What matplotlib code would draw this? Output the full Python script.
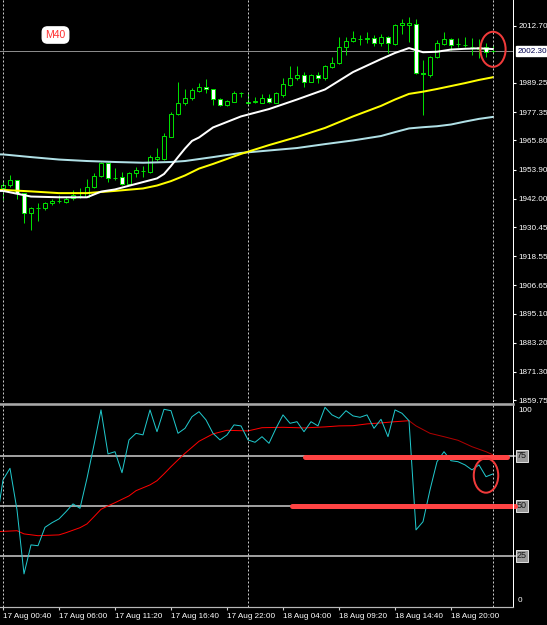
import matplotlib
matplotlib.use('Agg')
import matplotlib.pyplot as plt
import matplotlib.transforms as mtransforms
from matplotlib.patches import Ellipse
from matplotlib.lines import Line2D

plt.rcParams['font.family'] = ['Liberation Sans', 'DejaVu Sans']
FS = 5.9

# ---------------- data (M40 candles, 17-18 Aug) ----------------
OPEN = [1946.5, 1947.6, 1949.6, 1944.2, 1936.1, 1938.1, 1938.1, 1940.1, 1941.0, 1940.8,
        1942.4, 1943.1, 1942.8, 1946.7, 1951.3, 1956.7, 1950.4, 1950.8, 1948.0, 1952.4,
        1953.4, 1953.0, 1958.1, 1958.1, 1967.3, 1976.5, 1981.0, 1983.0, 1986.1, 1987.5,
        1986.7, 1982.6, 1980.1, 1981.6, 1985.0, 1981.0, 1981.6, 1981.2, 1983.0, 1981.2,
        1984.4, 1988.4, 1991.2, 1992.5, 1989.8, 1992.5, 1991.2, 1995.9, 1997.3, 2004.1,
        2006.4, 2007.2, 2007.4, 2007.5, 2005.5, 2008.1, 2005.2, 2012.9, 2012.9, 2013.3,
        1993.5, 1992.5, 1999.7, 2005.2, 2007.1, 2005.0, 2004.7, 2004.0, 2003.0, 2004.1,
        2002.2]
HIGH = [1949.6, 1951.7, 1949.7, 1944.3, 1938.8, 1940.1, 1940.8, 1941.8, 1943.5, 1942.8,
        1945.6, 1946.3, 1949.9, 1952.4, 1957.1, 1957.1, 1954.4, 1952.8, 1953.0, 1954.8,
        1955.4, 1959.9, 1962.6, 1968.7, 1977.5, 1989.8, 1986.7, 1987.1, 1989.1, 1990.8,
        1986.8, 1983.0, 1982.3, 1986.1, 1985.7, 1985.7, 1983.7, 1984.6, 1984.6, 1985.7,
        1991.2, 1996.2, 1996.2, 1993.9, 1992.9, 1993.9, 1996.6, 1999.7, 2007.9, 2007.9,
        2010.5, 2008.8, 2009.9, 2008.8, 2009.1, 2008.4, 2013.3, 2015.2, 2016.1, 2015.2,
        1998.6, 2000.3, 2006.8, 2010.2, 2007.7, 2007.5, 2008.1, 2007.5, 2007.1, 2005.5,
        2004.8]
LOW = [1941.5, 1946.9, 1941.8, 1932.0, 1929.2, 1933.0, 1937.4, 1939.4, 1940.1, 1940.4,
       1941.5, 1942.4, 1942.6, 1946.3, 1951.0, 1949.0, 1949.6, 1947.6, 1947.6, 1951.0,
       1951.0, 1952.4, 1957.4, 1957.8, 1967.2, 1976.2, 1980.3, 1982.3, 1985.7, 1985.2,
       1980.3, 1979.9, 1979.9, 1981.5, 1983.7, 1980.7, 1981.2, 1981.1, 1981.0, 1981.0,
       1983.7, 1988.0, 1990.5, 1987.5, 1989.7, 1989.1, 1990.5, 1995.2, 1997.2, 2000.7,
       2005.9, 2004.8, 2005.5, 2004.5, 2004.5, 2001.4, 2004.8, 2009.2, 2006.0, 1992.9,
       1976.2, 1991.6, 1999.3, 2004.8, 2002.7, 2004.1, 2004.1, 2000.7, 1999.3, 2000.0,
       2001.4]
CLOSE = [1947.6, 1949.6, 1944.2, 1936.1, 1938.1, 1938.2, 1940.1, 1941.1, 1941.2, 1941.8,
         1943.5, 1943.2, 1946.9, 1951.3, 1956.5, 1950.4, 1950.5, 1947.9, 1952.6, 1953.7,
         1953.5, 1958.9, 1958.9, 1967.6, 1976.5, 1981.0, 1983.0, 1986.4, 1987.7, 1986.7,
         1982.6, 1980.3, 1982.0, 1985.0, 1985.1, 1981.6, 1981.7, 1983.0, 1981.6, 1985.0,
         1988.8, 1991.2, 1992.5, 1989.8, 1992.5, 1991.4, 1996.2, 1997.3, 2004.1, 2006.4,
         2007.5, 2007.3, 2007.5, 2005.5, 2008.1, 2005.5, 2012.9, 2013.6, 2013.6, 1993.5,
         1992.9, 1999.7, 2005.5, 2007.1, 2004.8, 2005.1, 2004.8, 2004.1, 2004.1, 2002.0,
         2002.3]
CURRENT_PRICE = 2002.30

# moving averages (read at selected bars)
MA_FAST_IDX = [-1, 0, 4, 8, 12, 14, 16, 20, 22, 23, 24, 25, 26, 27, 28, 30, 34, 38, 42, 46,
               50, 54, 56, 58, 60, 62, 64, 66, 68, 70]
MA_FAST = [1945.2, 1945.2, 1942.9, 1942.6, 1942.6, 1944.9, 1945.8, 1948.8, 1950.3, 1952.1,
           1955.4, 1959.0, 1962.5, 1965.6, 1967.0, 1971.1, 1975.6, 1978.6, 1982.5, 1986.6,
           1993.7, 1999.0, 2001.5, 2003.5, 2001.8, 2002.0, 2002.9, 2003.2, 2003.4, 2003.1]
MA_MID_IDX = [-1, 0, 4, 8, 12, 16, 20, 22, 24, 26, 28, 30, 34, 38, 42, 46, 50, 54, 56, 58,
              60, 62, 64, 66, 68, 70]
MA_MID = [1945.6, 1945.6, 1945.0, 1944.3, 1944.3, 1945.2, 1946.2, 1947.4, 1949.2, 1951.5,
          1954.3, 1956.2, 1960.3, 1963.9, 1967.2, 1970.9, 1975.6, 1979.9, 1982.5, 1984.8,
          1985.7, 1986.8, 1988.0, 1989.2, 1990.5, 1991.6]
MA_SLOW_IDX = [-1, 0, 4, 8, 12, 16, 20, 24, 26, 28, 30, 34, 38, 42, 46, 50, 54, 56, 58,
               60, 62, 64, 66, 68, 70]
MA_SLOW = [1960.1, 1960.1, 1959.0, 1958.0, 1957.4, 1957.0, 1956.7, 1957.0, 1957.4, 1958.2,
           1959.0, 1960.7, 1961.7, 1962.7, 1964.3, 1965.8, 1967.6, 1969.2, 1970.7,
           1971.2, 1971.6, 1972.3, 1973.5, 1974.6, 1975.4]

# oscillator (0-100)
OSC_MAIN_IDX = [-1] + list(range(71))
OSC_MAIN = [40.0,
            62.9, 68.7, 47.9, 15.9, 30.4, 30.0, 39.2, 41.5, 43.4, 47.0,
            50.9, 48.7, 63.7, 80.4, 97.9, 75.9, 77.0, 66.5, 82.9, 86.2,
            85.4, 97.9, 87.0, 98.2, 97.5, 86.2, 88.7, 94.5, 97.0, 92.9,
            86.2, 82.9, 85.4, 90.4, 89.9, 82.9, 81.7, 84.5, 81.2, 88.7,
            95.4, 91.2, 92.0, 87.0, 92.0, 89.9, 99.2, 95.4, 93.7, 97.5,
            94.9, 94.2, 95.4, 88.7, 93.2, 84.5, 97.9, 96.2, 92.5, 37.9,
            42.0, 57.9, 72.0, 77.0, 72.5, 72.0, 70.4, 67.9, 70.4, 64.5, 65.9]
OSC_SIG_IDX = [-1, 2, 3, 5, 8, 9, 11, 12, 13, 14, 15, 16, 18, 19, 21, 22, 23, 24, 25, 26,
               28, 30, 32, 35, 37, 40, 43, 46, 48, 50, 52, 54, 56, 58, 59, 61, 63, 65, 67,
               69, 70]
OSC_SIG = [37.0, 37.5, 35.9, 35.0, 35.4, 36.5, 39.0, 40.9, 44.5, 48.2, 49.9, 51.5, 54.9,
           57.5, 60.4, 62.5, 65.9, 69.5, 72.9, 76.2, 82.2, 85.9, 87.7, 87.4, 89.0, 89.2,
           88.9, 89.4, 89.9, 90.0, 90.9, 91.4, 92.0, 92.5, 89.9, 86.2, 84.5, 82.7, 79.5,
           77.0, 75.4]
OSC_LEVELS = [75, 50, 25]

PRICE_TICKS = [2012.70, 1989.25, 1977.35, 1965.80, 1953.90, 1942.00, 1930.45, 1918.55,
               1906.65, 1895.10, 1883.20, 1871.30, 1859.75]
TIME_TICK_IDX = [0, 8, 16, 24, 32, 40, 48, 56, 64]
TIME_LABELS = ['17 Aug 00:40', '17 Aug 06:00', '17 Aug 11:20', '17 Aug 16:40',
               '17 Aug 22:00', '18 Aug 04:00', '18 Aug 09:20', '18 Aug 14:40',
               '18 Aug 20:00']
DAY_SEP_IDX = [0, 35, 70]

# hand-drawn annotations
ANNOT_LINES = [(74.4, 43.1, 72.0), (50.1, 41.3, 73.1)]   # (level, start bar, end bar)
ANNOT_CIRCLE_MAIN = (70.0, 2003.0, 3.6, 14.3)
ANNOT_CIRCLE_OSC = (69.0, 65.1, 3.5, 17.2)

# ---------------- figure ----------------
W, H = 547, 625
PT = 0.72  # points per pixel at dpi 100
fig = plt.figure(figsize=(W / 100, H / 100), dpi=100, facecolor='black')

XL = (-3 / 7, 510 / 7)
ax = fig.add_axes([0, (H - 402) / H, 513 / W, 402 / H], facecolor='black')
ax2 = fig.add_axes([0, (H - 607) / H, 513 / W, 202 / H], facecolor='black')
for a in (ax, ax2):
    a.set_xlim(*XL)
    for s in a.spines.values():
        s.set_visible(False)
ax.set_ylim(1859.04, 2023.12)
ax2.set_ylim(-0.65, 100.35)

GREEN = '#00dd00'
# candles
for i in range(len(OPEN)):
    o, h, l, c = OPEN[i], HIGH[i], LOW[i], CLOSE[i]
    ax.vlines(i, l, h, color=GREEN, lw=1 * PT, zorder=3)
    fc = 'black' if c >= o else 'white'
    ax.bar(i, max(abs(c - o), 0.08), bottom=min(o, c), width=0.5, facecolor=fc,
           edgecolor=GREEN, linewidth=1 * PT, zorder=4)

# moving averages
ax.plot(MA_SLOW_IDX, MA_SLOW, color='#b0e0e6', lw=2 * PT, zorder=5)
ax.plot(MA_MID_IDX, MA_MID, color='#ffff00', lw=2 * PT, zorder=5)
ax.plot(MA_FAST_IDX, MA_FAST, color='white', lw=2 * PT, zorder=5)

# current price line
ax.axhline(CURRENT_PRICE, color='#8a8a8a', lw=1 * PT, zorder=2)

# day separators
for a in (ax, ax2):
    for d in DAY_SEP_IDX:
        a.axvline(d, color='#c8c8c8', lw=1 * PT, linestyle=(0, (2, 2)), zorder=6)

# price axis
ax.yaxis.tick_right()
ax.set_yticks(PRICE_TICKS)
ax.set_yticklabels([f'{t:.2f}' for t in PRICE_TICKS])
ax.tick_params(axis='y', colors='white', length=2.5, width=0.8, pad=1.6, labelsize=FS)
ax.tick_params(axis='x', bottom=False, labelbottom=False)
btr = mtransforms.blended_transform_factory(ax.transAxes, ax.transData)
ax.text(1 + 5 / 513, CURRENT_PRICE, f'{CURRENT_PRICE:.2f}', transform=btr, ha='left',
        va='center', fontsize=FS, color='#000050',
        bbox=dict(boxstyle='square,pad=0.22', fc='white', ec='white'), zorder=10)

# M40 label
ax.text(55.5 / 513, 1 - 35 / 402, 'M40', transform=ax.transAxes, ha='center', va='center',
        fontsize=7.5, color='#ff3030',
        bbox=dict(boxstyle='round,pad=0.3,rounding_size=0.5', fc='white', ec='white'))

# oscillator
for lv in OSC_LEVELS:
    ax2.plot([XL[0], 73.1], [lv, lv], color='#c4c4c4', lw=1.6 * PT, zorder=2, clip_on=False)
ax2.plot(OSC_SIG_IDX[:34], OSC_SIG[:34], color='#ff0000', lw=1 * PT, zorder=4)
ax2.plot(OSC_SIG_IDX[33:], OSC_SIG[33:], color='#b00000', lw=1 * PT, zorder=4)
ax2.plot(OSC_MAIN_IDX, OSC_MAIN, color='#20c8cc', lw=1 * PT, zorder=5)

btr2 = mtransforms.blended_transform_factory(ax2.transAxes, ax2.transData)
for lv in OSC_LEVELS:
    ax2.text(1 + 4 / 513, lv, str(lv), transform=btr2, ha='left', va='center', fontsize=FS + 0.6,
             color='#151515',
             bbox=dict(boxstyle='square,pad=0.15', fc='#9a9a9a', ec='#e0e0e0', lw=0.7))
ax2.text(1 + 5 / 513, 97.35, '100', transform=btr2, ha='left', va='center', fontsize=FS,
         color='white')
ax2.text(1 + 5 / 513, 2.35, '0', transform=btr2, ha='left', va='center', fontsize=FS,
         color='white')
ax2.set_yticks([])

ax2.set_xticks(TIME_TICK_IDX)
ax2.set_xticklabels(TIME_LABELS)
for lab in ax2.get_xticklabels():
    lab.set_ha('left')
ax2.tick_params(axis='x', colors='#d0d0d0', labelcolor='white', length=2.5, width=0.8,
                pad=1.5, labelsize=FS)

# annotations
for lv, x0, x1 in ANNOT_LINES:
    ax2.plot([x0, x1], [lv, lv], color='#ff4343', lw=5 * PT, solid_capstyle='round',
             zorder=7, clip_on=False)
cx, cy, cw, ch = ANNOT_CIRCLE_MAIN
ax.add_patch(Ellipse((cx, cy), cw, ch, fill=False, ec='#f03a3a', lw=2 * PT, zorder=9))
cx, cy, cw, ch = ANNOT_CIRCLE_OSC
ax2.add_patch(Ellipse((cx, cy), cw, ch, fill=False, ec='#f03a3a', lw=2 * PT, zorder=9))

# frame lines
fig.add_artist(Line2D([513 / W, 513 / W], [1, (H - 607) / H], color='white', lw=1 * PT))
fig.add_artist(Line2D([0, 513 / W], [(H - 607) / H] * 2, color='#b8b8b8', lw=1.2 * PT))
fig.add_artist(Line2D([0, 513 / W], [(H - 403.5) / H] * 2, color='#a8a8a8', lw=2.6 * PT))

fig.savefig('out.png', dpi=100, facecolor='black')
